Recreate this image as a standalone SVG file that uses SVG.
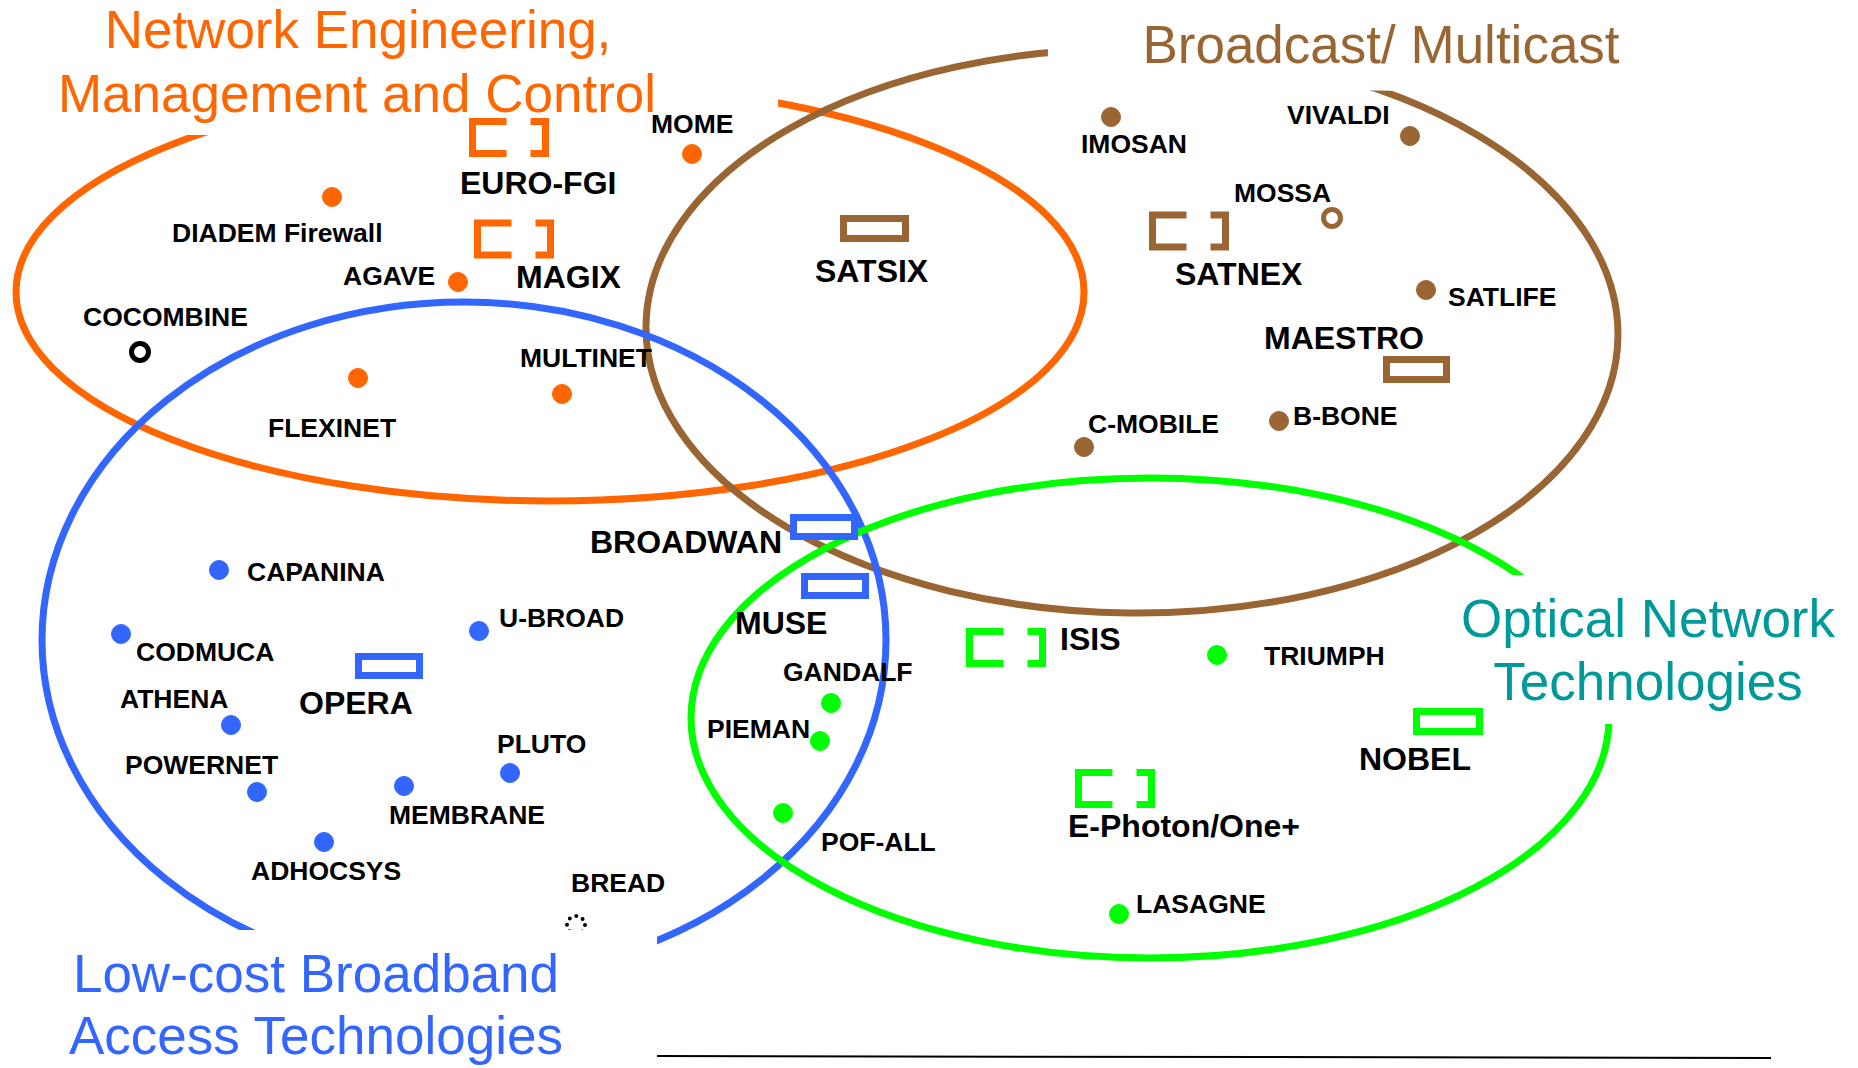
<svg xmlns="http://www.w3.org/2000/svg" width="1858" height="1068" viewBox="0 0 1858 1068">
<style>
text{font-family:"Liberation Sans",Arial,sans-serif;}
.lbl{font-size:26.5px;font-weight:bold;fill:#000;}
.big{font-size:32px;font-weight:bold;fill:#000;}
.title{font-size:53px;text-anchor:middle;}
.ell{fill:none;stroke-width:7;}
.box{fill:#fff;stroke-width:7;}
.brk{fill:none;stroke-width:7;stroke-dasharray:34 24 62 24 66;}
.ring{fill:#fff;stroke-width:5;}
.o{fill:#FF6600;stroke:#FF6600;}
.b{fill:#996633;stroke:#996633;}
.u{fill:#3366FF;stroke:#3366FF;}
.g{fill:#00FF00;stroke:#00FF00;}
</style>
<defs>
<mask id="mO" maskUnits="userSpaceOnUse" x="0" y="0" width="1858" height="1068"><rect x="0" y="0" width="1858" height="1068" fill="#fff"/><rect x="-10" y="-10" width="788" height="145" fill="#000"/></mask>
<mask id="mB" maskUnits="userSpaceOnUse" x="0" y="0" width="1858" height="1068"><rect x="0" y="0" width="1858" height="1068" fill="#fff"/><rect x="1045" y="-10" width="830" height="98" fill="#000"/></mask>
<mask id="mU" maskUnits="userSpaceOnUse" x="0" y="0" width="1858" height="1068"><rect x="0" y="0" width="1858" height="1068" fill="#fff"/><rect x="-10" y="930" width="667" height="150" fill="#000"/></mask>
<mask id="mG" maskUnits="userSpaceOnUse" x="0" y="0" width="1858" height="1068"><rect x="0" y="0" width="1858" height="1068" fill="#fff"/><rect x="1450" y="575" width="420" height="149" fill="#000"/></mask>
</defs>
<rect x="0" y="0" width="1858" height="1068" fill="#fff"/>

<g id="regions">
<ellipse class="ell" stroke="#FF6600" cx="550" cy="292" rx="534" ry="209" mask="url(#mO)"/>
<ellipse class="ell" stroke="#996633" cx="1132" cy="331" rx="486" ry="282" transform="rotate(0.6 1132 331)" mask="url(#mB)"/>
<ellipse class="ell" stroke="#3366FF" cx="464" cy="640" rx="422" ry="338" mask="url(#mU)"/>
<ellipse class="ell" stroke="#00FF00" cx="1150" cy="718" rx="459" ry="240" mask="url(#mG)"/>
<line x1="657" y1="1056" x2="1771" y2="1058" stroke="#000" stroke-width="2"/>
</g>

<g id="node-diadem"><circle class="o" cx="332" cy="197" r="9.5"/><text class="lbl" x="172" y="242">DIADEM Firewall</text></g>
<g id="node-agave"><circle class="o" cx="458" cy="282" r="9.5"/><text class="lbl" x="343" y="285">AGAVE</text></g>
<g id="node-mome"><circle class="o" cx="692" cy="154" r="9.5"/><text class="lbl" x="651" y="133">MOME</text></g>
<g id="node-eurofgi"><rect class="brk" stroke="#FF6600" x="472.5" y="121.5" width="73" height="32"/><text class="big" x="460" y="194">EURO-FGI</text></g>
<g id="node-magix"><rect class="brk" stroke="#FF6600" x="477.5" y="223" width="73" height="32"/><text class="big" x="516" y="288">MAGIX</text></g>
<g id="node-cocombine"><circle class="ring" stroke="#000" cx="140" cy="352" r="8.5"/><text class="lbl" x="83" y="326">COCOMBINE</text></g>
<g id="node-flexinet"><circle class="o" cx="358" cy="378" r="9.5"/><text class="lbl" x="268" y="437">FLEXINET</text></g>
<g id="node-multinet"><circle class="o" cx="562" cy="394" r="9.5"/><text class="lbl" x="520" y="367">MULTINET</text></g>

<g id="node-imosan"><circle class="b" cx="1111" cy="117" r="9.5"/><text class="lbl" x="1081" y="153">IMOSAN</text></g>
<g id="node-vivaldi"><circle class="b" cx="1410" cy="136" r="9.5"/><text class="lbl" x="1287" y="124">VIVALDI</text></g>
<g id="node-mossa"><circle class="ring" stroke="#996633" cx="1332" cy="218" r="8.5"/><text class="lbl" x="1234" y="202">MOSSA</text></g>
<g id="node-satnex"><rect class="brk" stroke="#996633" x="1152.5" y="215" width="73" height="32"/><text class="big" x="1175" y="285">SATNEX</text></g>
<g id="node-satsix"><rect class="box" stroke="#996633" x="843.5" y="218.5" width="62" height="20"/><text class="big" x="815" y="282">SATSIX</text></g>
<g id="node-satlife"><circle class="b" cx="1426" cy="290" r="9.5"/><text class="lbl" x="1448" y="306">SATLIFE</text></g>
<g id="node-maestro"><rect class="box" stroke="#996633" x="1386.5" y="359.5" width="60" height="20"/><text class="big" x="1264" y="349">MAESTRO</text></g>
<g id="node-bbone"><circle class="b" cx="1279" cy="421" r="9.5"/><text class="lbl" x="1293" y="425">B-BONE</text></g>
<g id="node-cmobile"><circle class="b" cx="1084" cy="447" r="9.5"/><text class="lbl" x="1088" y="433">C-MOBILE</text></g>

<g id="node-broadwan"><rect class="box" stroke="#3366FF" x="793.5" y="517.5" width="61" height="19"/><text class="big" x="590" y="553">BROADWAN</text></g>
<g id="node-muse"><rect class="box" stroke="#3366FF" x="804.5" y="576.5" width="61" height="19"/><text class="big" x="735" y="634">MUSE</text></g>
<g id="node-capanina"><circle class="u" cx="219" cy="570" r="9.5"/><text class="lbl" x="247" y="581">CAPANINA</text></g>
<g id="node-codmuca"><circle class="u" cx="121" cy="634" r="9.5"/><text class="lbl" x="136" y="661">CODMUCA</text></g>
<g id="node-athena"><circle class="u" cx="231" cy="725" r="9.5"/><text class="lbl" x="120" y="708">ATHENA</text></g>
<g id="node-opera"><rect class="box" stroke="#3366FF" x="358.5" y="656.5" width="61" height="19"/><text class="big" x="299" y="714">OPERA</text></g>
<g id="node-ubroad"><circle class="u" cx="479" cy="631" r="9.5"/><text class="lbl" x="499" y="627">U-BROAD</text></g>
<g id="node-powernet"><circle class="u" cx="257" cy="792" r="9.5"/><text class="lbl" x="125" y="774">POWERNET</text></g>
<g id="node-membrane"><circle class="u" cx="404" cy="786" r="9.5"/><text class="lbl" x="389" y="824">MEMBRANE</text></g>
<g id="node-pluto"><circle class="u" cx="510" cy="773" r="9.5"/><text class="lbl" x="497" y="753">PLUTO</text></g>
<g id="node-adhocsys"><circle class="u" cx="324" cy="842" r="9.5"/><text class="lbl" x="251" y="880">ADHOCSYS</text></g>
<g id="node-bread"><circle cx="576" cy="925" r="9" fill="none" stroke="#000" stroke-width="4" stroke-linecap="round" stroke-dasharray="0 7.07" mask="url(#mU)"/><text class="lbl" x="571" y="892">BREAD</text></g>

<g id="node-isis"><rect class="brk" stroke="#00FF00" x="969.5" y="631.5" width="73" height="32"/><text class="big" x="1060" y="650">ISIS</text></g>
<g id="node-triumph"><circle class="g" cx="1217" cy="655" r="9.5"/><text class="lbl" x="1264" y="665">TRIUMPH</text></g>
<g id="node-nobel"><rect class="box" stroke="#00FF00" x="1416.5" y="711.5" width="63" height="20"/><text class="big" x="1359" y="770">NOBEL</text></g>
<g id="node-gandalf"><circle class="g" cx="831" cy="703" r="9.5"/><text class="lbl" x="783" y="681">GANDALF</text></g>
<g id="node-pieman"><circle class="g" cx="820" cy="741" r="9.5"/><text class="lbl" x="707" y="738">PIEMAN</text></g>
<g id="node-pofall"><circle class="g" cx="783" cy="813" r="9.5"/><text class="lbl" x="821" y="851">POF-ALL</text></g>
<g id="node-ephoton"><rect class="brk" stroke="#00FF00" x="1078.5" y="772.5" width="73" height="32"/><text class="big" x="1068" y="837">E-Photon/One+</text></g>
<g id="node-lasagne"><circle class="g" cx="1119" cy="914" r="9.5"/><text class="lbl" x="1136" y="913">LASAGNE</text></g>

<g id="titles">
<text class="title" fill="#FF6600" x="358" y="48">Network Engineering,</text>
<text class="title" fill="#FF6600" x="357" y="112">Management and Control</text>
<text class="title" fill="#996633" x="1381" y="63">Broadcast/ Multicast</text>
<text class="title" fill="#3366FF" x="316" y="992">Low-cost Broadband</text>
<text class="title" fill="#3366FF" x="316" y="1054">Access Technologies</text>
<text class="title" fill="#009999" x="1648" y="637">Optical Network</text>
<text class="title" fill="#009999" x="1648" y="700">Technologies</text>
</g>
</svg>
